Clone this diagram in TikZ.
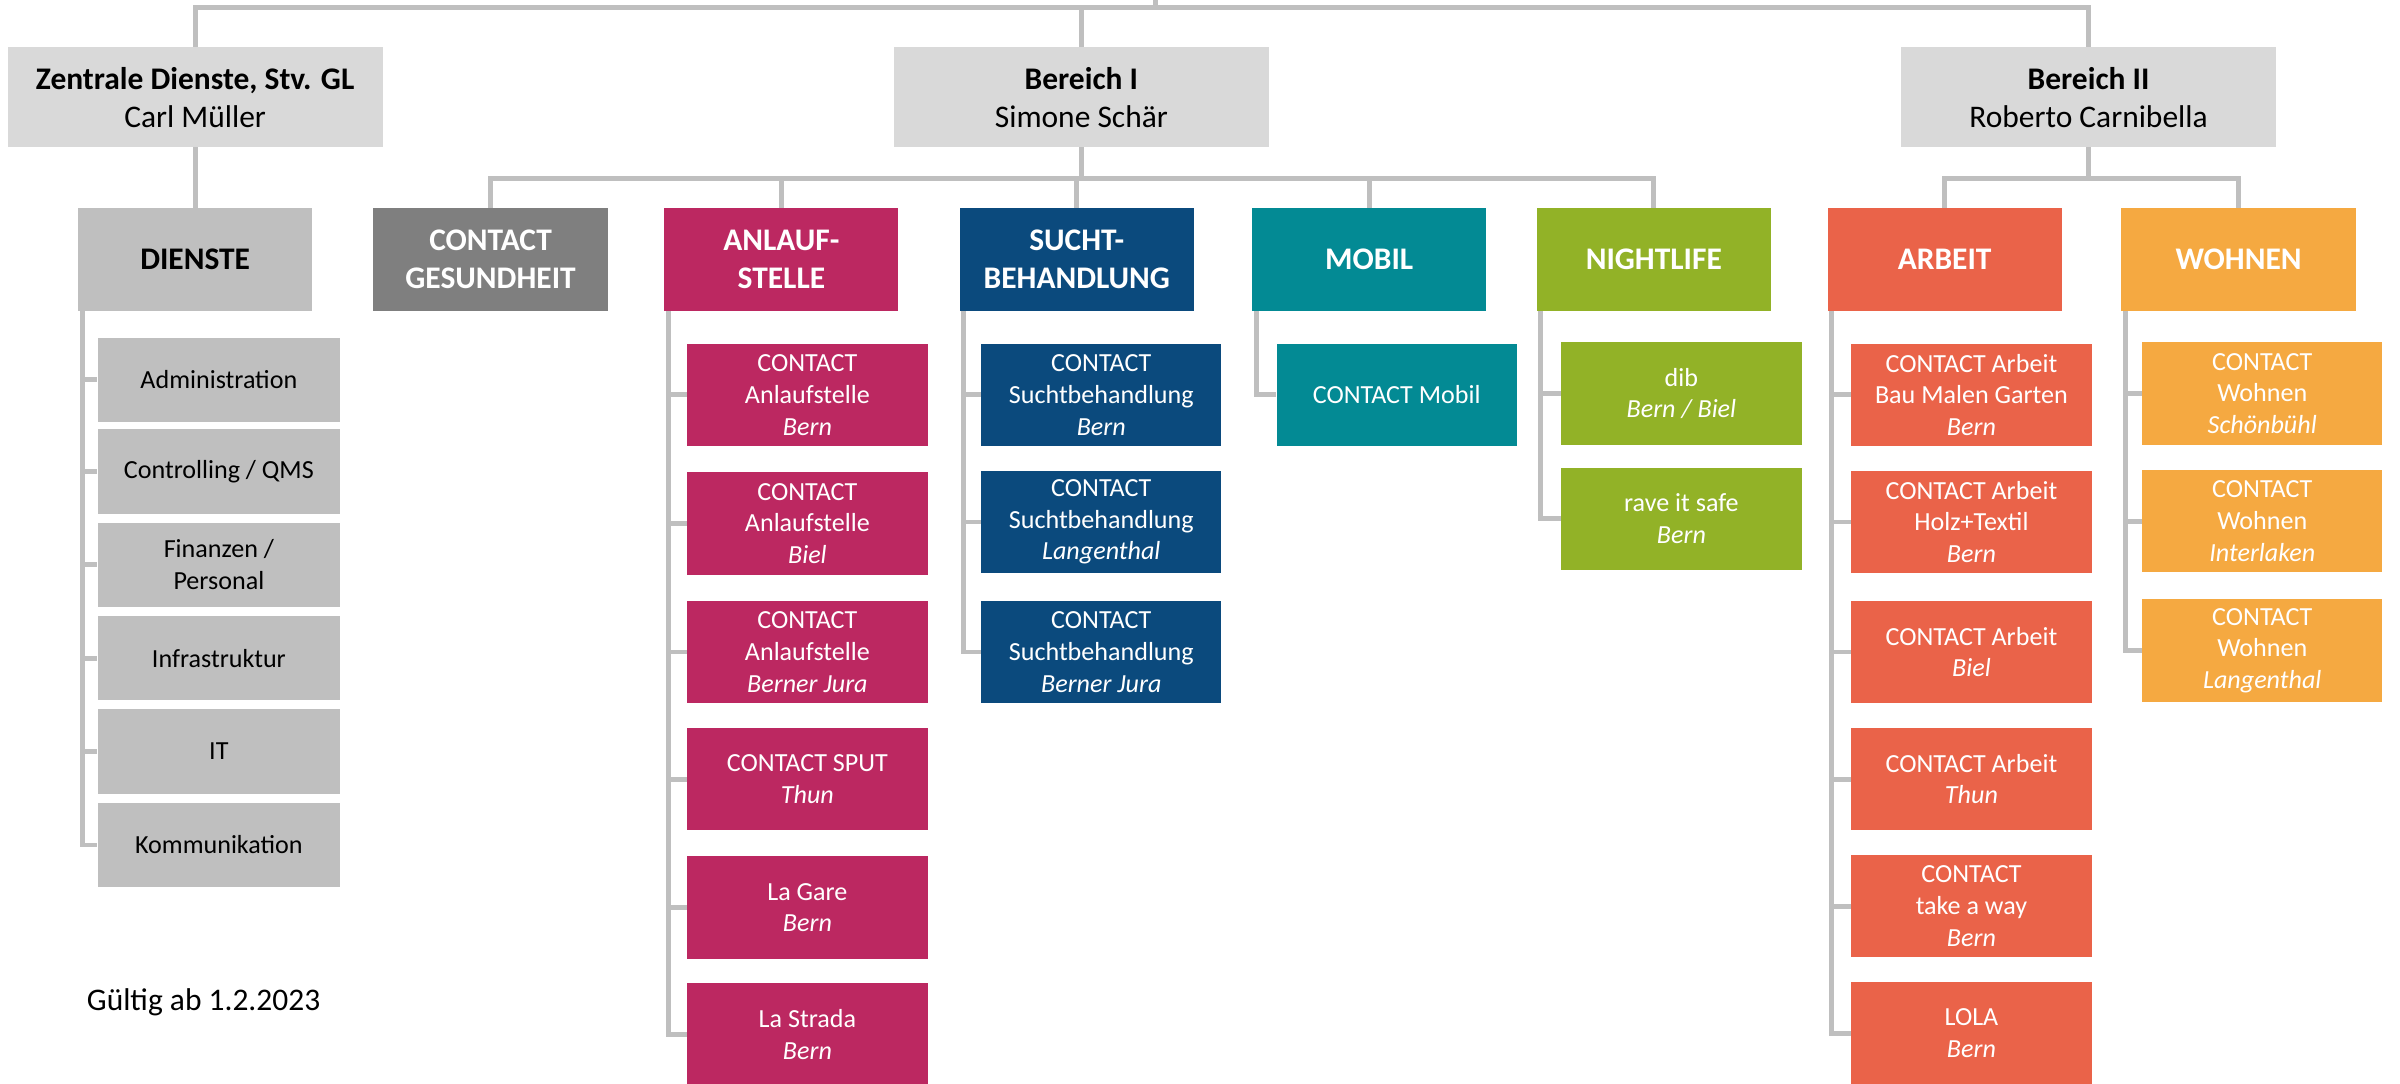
\documentclass[tikz,border=0pt]{standalone}
\usepackage{fontspec}
\setmainfont{Carlito}
\usetikzlibrary{calc}

\definecolor{lgray}{HTML}{D9D9D9}
\definecolor{dgray}{HTML}{BFBFBF}
\definecolor{wiregray}{HTML}{BFBFBF}
\definecolor{gesundgray}{HTML}{7F7F7F}
\definecolor{anlaufred}{HTML}{BC2861}
\definecolor{suchtblue}{HTML}{0B4A7D}
\definecolor{mobilteal}{HTML}{038A94}
\definecolor{nightgreen}{HTML}{92B227}
\definecolor{arbeitred}{HTML}{EA6349}
\definecolor{wohnenorange}{HTML}{F5A941}

\begin{document}
\begin{tikzpicture}
    [x = 0.02cm, y = -0.02cm,
     wire/.style = {draw = wiregray, line width = 1.8pt},
     orgbox/.style = {rectangle, inner sep = 0pt, align = center},
     chief/.style = {orgbox, fill = lgray, minimum width = 4.9cm, minimum height = 1.3cm,
                     font = \fontsize{11.7}{14.2}\selectfont},
     unit/.style = {orgbox, text = white, minimum width = 3.06cm, minimum height = 1.34cm,
                    font = \fontsize{11.7}{14.2}\selectfont\bfseries},
     team/.style = {orgbox, text = white, minimum width = 3.14cm, minimum height = 1.34cm,
                    font = \fontsize{9.7}{11.8}\selectfont},
     service/.style = {orgbox, fill = dgray, minimum width = 3.16cm, minimum height = 1.1cm,
                       font = \fontsize{9.7}{11.8}\selectfont}]
    \useasboundingbox (0,0) rectangle (1568,708);

    % leitung
    \node[chief] (zen) at (127.5,63.5) {\textbf{Zentrale Dienste, Stv. GL}\\Carl Müller};
    \node[chief] (ber1) at (706.5,63.5) {\textbf{Bereich I}\\Simone Schär};
    \node[chief] (ber2) at (1364.5,63.5) {\textbf{Bereich II}\\Roberto Carnibella};

    % abteilungen
    \node[unit, fill = dgray, text = black] (dienste) at (127.5,169.5) {DIENSTE};
    \node[unit, fill = gesundgray] (gesund) at (320.5,169.5) {CONTACT\\GESUNDHEIT};
    \node[unit, fill = anlaufred] (anlauf) at (510.5,169.5) {ANLAUF-\\STELLE};
    \node[unit, fill = suchtblue] (sucht) at (703.5,169.5) {SUCHT-\\BEHANDLUNG};
    \node[unit, fill = mobilteal] (mobil) at (894.5,169.5) {MOBIL};
    \node[unit, fill = nightgreen] (night) at (1080.5,169.5) {NIGHTLIFE};
    \node[unit, fill = arbeitred] (arbeit) at (1270.5,169.5) {ARBEIT};
    \node[unit, fill = wohnenorange] (wohnen) at (1462.5,169.5) {WOHNEN};

    % dienste
    \node[service] (d1) at (143,248) {Administration};
    \node[service] (d2) at (143,308) {Controlling / QMS};
    \node[service] (d3) at (143,369) {Finanzen /\\Personal};
    \node[service] (d4) at (143,430) {Infrastruktur};
    \node[service] (d5) at (143,491) {IT};
    \node[service] (d6) at (143,552) {Kommunikation};

    % anlaufstelle
    \node[team, fill = anlaufred] (a1) at (527.5,258) {CONTACT\\Anlaufstelle\\\textit{Bern}};
    \node[team, fill = anlaufred] (a2) at (527.5,342) {CONTACT\\Anlaufstelle\\\textit{Biel}};
    \node[team, fill = anlaufred] (a3) at (527.5,426) {CONTACT\\Anlaufstelle\\\textit{Berner Jura}};
    \node[team, fill = anlaufred] (a4) at (527.5,509) {CONTACT SPUT\\\textit{Thun}};
    \node[team, fill = anlaufred] (a5) at (527.5,593) {La Gare\\\textit{Bern}};
    \node[team, fill = anlaufred] (a6) at (527.5,676) {La Strada\\\textit{Bern}};

    % suchtbehandlung
    \node[team, fill = suchtblue] (s1) at (719.5,258) {CONTACT\\Suchtbehandlung\\\textit{Bern}};
    \node[team, fill = suchtblue] (s2) at (719.5,341) {CONTACT\\Suchtbehandlung\\\textit{Langenthal}};
    \node[team, fill = suchtblue] (s3) at (719.5,426) {CONTACT\\Suchtbehandlung\\\textit{Berner Jura}};

    % mobil, nightlife
    \node[team, fill = mobilteal] (m1) at (912.5,258) {CONTACT Mobil};
    \node[team, fill = nightgreen] (n1) at (1098.5,257) {dib\\\textit{Bern / Biel}};
    \node[team, fill = nightgreen] (n2) at (1098.5,339) {rave it safe\\\textit{Bern}};

    % arbeit
    \node[team, fill = arbeitred] (r1) at (1288,258) {CONTACT Arbeit\\Bau Malen Garten\\\textit{Bern}};
    \node[team, fill = arbeitred] (r2) at (1288,341) {CONTACT Arbeit\\Holz+Textil\\\textit{Bern}};
    \node[team, fill = arbeitred] (r3) at (1288,426) {CONTACT Arbeit\\\textit{Biel}};
    \node[team, fill = arbeitred] (r4) at (1288,509) {CONTACT Arbeit\\\textit{Thun}};
    \node[team, fill = arbeitred] (r5) at (1288,592) {CONTACT\\take a way\\\textit{Bern}};
    \node[team, fill = arbeitred] (r6) at (1288,675) {LOLA\\\textit{Bern}};

    % wohnen
    \node[team, fill = wohnenorange] (w1) at (1478,257) {CONTACT\\Wohnen\\\textit{Schönbühl}};
    \node[team, fill = wohnenorange] (w2) at (1478,340.5) {CONTACT\\Wohnen\\\textit{Interlaken}};
    \node[team, fill = wohnenorange] (w3) at (1478,425) {CONTACT\\Wohnen\\\textit{Langenthal}};

    \node[font = \fontsize{11.7}{14.2}\selectfont] (valid) at (133,655) {Gültig ab 1.2.2023};

    % linien
    \coordinate (top) at (755,5);
    \coordinate (up) at (755,-3);
    \draw[wire] (up) -- (top);
    \draw[wire] (zen.north) |- (top) -| (ber2.north);
    \draw[wire] (ber1.north) -- (ber1.north |- top);
    \draw[wire] (zen) -- (dienste);
    \foreach \to in {gesund,anlauf,sucht,mobil,night}
      \draw[wire] (ber1.south) -- ++(0,20) -| (\to.north);
    \foreach \to in {arbeit,wohnen}
      \draw[wire] (ber2.south) -- ++(0,20) -| (\to.north);
    \foreach \from/\to in {dienste/d1,dienste/d2,dienste/d3,dienste/d4,dienste/d5,dienste/d6,
                           anlauf/a1,anlauf/a2,anlauf/a3,anlauf/a4,anlauf/a5,anlauf/a6,
                           sucht/s1,sucht/s2,sucht/s3,mobil/m1,night/n1,night/n2,
                           arbeit/r1,arbeit/r2,arbeit/r3,arbeit/r4,arbeit/r5,arbeit/r6,
                           wohnen/w1,wohnen/w2,wohnen/w3}
      \draw[wire] ($(\from.south west)+(3,0)$) |- (\to.west);
\end{tikzpicture}
\end{document}
